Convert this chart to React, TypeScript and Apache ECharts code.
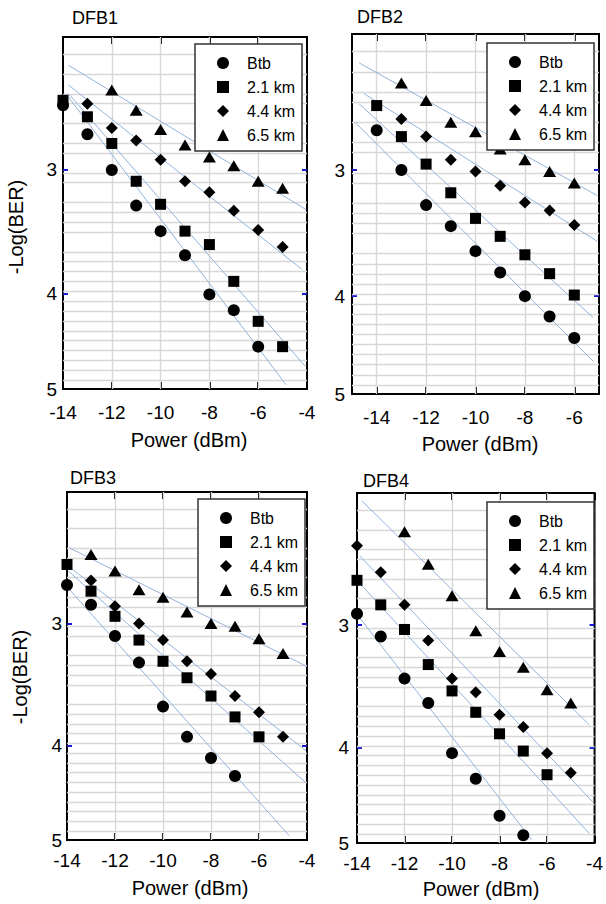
import React, { useEffect, useRef } from 'react';
import * as echarts from 'echarts';

const FONT = '"Liberation Sans", Arial, Helvetica, sans-serif';

// ---------- shared axis values ----------
const SERIES_NAMES = ['Btb', '2.1 km', '4.4 km', '6.5 km'];
const PANEL_TITLES = ['DFB1', 'DFB2', 'DFB3', 'DFB4'];
const X_TICKS_WIDE = [-14, -12, -10, -8, -6, -4];
const X_TICKS_NARROW = [-14, -12, -10, -8, -6];
const Y_LABELS = [3, 4, 5];
const Y_TICKS = [3, 4];
const Y_GRID = [2.3, 2.4, 2.5, 2.6, 2.7, 2.8, 2.9, 3.0, 3.1, 3.2, 3.3, 3.4, 3.5, 3.6, 3.7, 3.8, 3.9, 4.0, 4.1, 4.2, 4.3, 4.4, 4.5, 4.6, 4.7, 4.8, 4.9];
const Y_MIN = 2.2;
const Y_MAX = 5;
const X_NAME = 'Power (dBm)';
const Y_NAME = '-Log(BER)';

// ---------- DFB1 ----------
const dfb1BtbX = [-14, -13, -12, -11, -10, -9, -8, -7, -6];
const dfb1BtbY = [2.58, 2.76, 3.0, 3.26, 3.46, 3.66, 4.01, 4.16, 4.53];
const dfb1Km21X = [-14, -13, -12, -11, -10, -9, -8, -7, -6, -5];
const dfb1Km21Y = [2.55, 2.65, 2.82, 3.08, 3.25, 3.46, 3.57, 3.89, 4.27, 4.53];
const dfb1Km44X = [-13, -12, -11, -10, -9, -8, -7, -6, -5];
const dfb1Km44Y = [2.57, 2.72, 2.8, 2.93, 3.08, 3.16, 3.3, 3.45, 3.59];
const dfb1Km65X = [-12, -11, -10, -9, -8, -7, -6, -5];
const dfb1Km65Y = [2.49, 2.61, 2.73, 2.83, 2.91, 2.97, 3.08, 3.13];
const dfb1Fits = [
  [[-13.78, 2.53], [-4.86, 4.95]],
  [[-13.78, 2.51], [-4.08, 4.74]],
  [[-13.78, 2.46], [-4.22, 3.78]],
  [[-13.78, 2.35], [-4.04, 3.29]],
];

// ---------- DFB2 ----------
const dfb2BtbX = [-14, -13, -12, -11, -10, -9, -8, -7, -6];
const dfb2BtbY = [2.74, 3.0, 3.25, 3.41, 3.61, 3.79, 4.0, 4.19, 4.4];
const dfb2Km21X = [-14, -13, -12, -11, -10, -9, -8, -7, -6];
const dfb2Km21Y = [2.59, 2.78, 2.96, 3.16, 3.35, 3.49, 3.64, 3.8, 3.99];
const dfb2Km44X = [-13, -12, -11, -10, -9, -8, -7, -6];
const dfb2Km44Y = [2.67, 2.78, 2.93, 3.01, 3.11, 3.23, 3.29, 3.4];
const dfb2Km65X = [-13, -12, -11, -10, -9, -8, -7, -6];
const dfb2Km65Y = [2.46, 2.56, 2.69, 2.75, 2.86, 2.93, 3.01, 3.09];
const dfb2Fits = [
  [[-14.88, 2.69], [-5.24, 4.64]],
  [[-14.71, 2.58], [-5.24, 4.2]],
  [[-14.52, 2.52], [-5.07, 3.53]],
  [[-14.71, 2.35], [-5.07, 3.18]],
];

// ---------- DFB3 ----------
const dfb3BtbX = [-14, -13, -12, -11, -10, -9, -8, -7];
const dfb3BtbY = [2.74, 2.87, 3.09, 3.29, 3.65, 3.92, 4.12, 4.3];
const dfb3Km21X = [-14, -13, -12, -11, -10, -9, -8, -7, -6];
const dfb3Km21Y = [2.61, 2.78, 2.95, 3.12, 3.28, 3.41, 3.56, 3.74, 3.92];
const dfb3Km44X = [-13, -12, -11, -10, -9, -8, -7, -6, -5];
const dfb3Km44Y = [2.71, 2.88, 3.0, 3.12, 3.28, 3.38, 3.56, 3.7, 3.92];
const dfb3Km65X = [-13, -12, -11, -10, -9, -8, -7, -6, -5];
const dfb3Km65Y = [2.55, 2.65, 2.77, 2.82, 2.92, 3.0, 3.02, 3.11, 3.22];
const dfb3Fits = [
  [[-13.95, 2.76], [-4.74, 4.95]],
  [[-13.95, 2.65], [-4.04, 4.37]],
  [[-13.95, 2.62], [-4.04, 4.05]],
  [[-13.9, 2.51], [-4.01, 3.32]],
];

// ---------- DFB4 ----------
const dfb4BtbX = [-14, -13, -12, -11, -10, -9, -8, -7];
const dfb4BtbY = [2.92, 3.08, 3.4, 3.6, 4.05, 4.3, 4.69, 4.91];
const dfb4Km21X = [-14, -13, -12, -11, -10, -9, -8, -7, -6];
const dfb4Km21Y = [2.7, 2.86, 3.03, 3.29, 3.5, 3.68, 3.87, 4.03, 4.26];
const dfb4Km44X = [-14, -13, -12, -11, -10, -9, -8, -7, -6, -5];
const dfb4Km44Y = [2.49, 2.65, 2.86, 3.11, 3.4, 3.51, 3.7, 3.81, 4.05, 4.24];
const dfb4Km65X = [-12, -11, -10, -9, -8, -7, -6, -5];
const dfb4Km65Y = [2.41, 2.6, 2.8, 3.04, 3.19, 3.31, 3.49, 3.6];
const dfb4Fits = [
  [[-13.88, 2.95], [-6.65, 4.96]],
  [[-13.88, 2.72], [-4.22, 4.89]],
  [[-13.88, 2.55], [-4.08, 4.54]],
  [[-13.8, 2.24], [-4.22, 3.79]],
];

// ---------- layout / style (not data) ----------
const PANELS = [
  {
    grid: { left: 63, top: 37, width: 244, height: 352 },
    xMin: -14, xMax: -4, xTicks: X_TICKS_WIDE, xLabelMargin: 14, yLabelMargin: 6,
    legend: { left: 195, top: 44 },
    title: { x: 72, y: 18 }, xName: { x: 189, y: 440 }, yName: { x: 16, y: 227 },
    xs: [dfb1BtbX, dfb1Km21X, dfb1Km44X, dfb1Km65X],
    ys: [dfb1BtbY, dfb1Km21Y, dfb1Km44Y, dfb1Km65Y],
    fits: dfb1Fits,
  },
  {
    grid: { left: 352, top: 34, width: 247, height: 360 },
    xMin: -15, xMax: -5, xTicks: X_TICKS_NARROW, xLabelMargin: 14, yLabelMargin: 7,
    legend: { left: 487, top: 43 },
    title: { x: 357, y: 17 }, xName: { x: 480, y: 444 }, yName: null,
    xs: [dfb2BtbX, dfb2Km21X, dfb2Km44X, dfb2Km65X],
    ys: [dfb2BtbY, dfb2Km21Y, dfb2Km44Y, dfb2Km65Y],
    fits: dfb2Fits,
  },
  {
    grid: { left: 67, top: 492, width: 240, height: 348 },
    xMin: -14, xMax: -4, xTicks: X_TICKS_WIDE, xLabelMargin: 11, yLabelMargin: 5,
    legend: { left: 198, top: 499 },
    title: { x: 70, y: 478 }, xName: { x: 190, y: 888 }, yName: { x: 20, y: 677 },
    xs: [dfb3BtbX, dfb3Km21X, dfb3Km44X, dfb3Km65X],
    ys: [dfb3BtbY, dfb3Km21Y, dfb3Km44Y, dfb3Km65Y],
    fits: dfb3Fits,
  },
  {
    grid: { left: 357, top: 493, width: 240, height: 350 },
    xMin: -14, xMax: -4, xTicks: X_TICKS_WIDE, xLabelMargin: 11, yLabelMargin: 8,
    legend: { left: 487, top: 502 },
    title: { x: 363, y: 481 }, xName: { x: 481, y: 889 }, yName: null,
    xs: [dfb4BtbX, dfb4Km21X, dfb4Km44X, dfb4Km65X],
    ys: [dfb4BtbY, dfb4Km21Y, dfb4Km44Y, dfb4Km65Y],
    fits: dfb4Fits,
  },
];

const SYMBOLS = ['circle', 'rect', 'diamond', 'triangle'];
const SYMBOL_SIZES: any[] = [12, 11, 12, [13, 11]];
const FIT_COLOR = '#93b3da';
const GRID_COLOR = '#d8d8d8';
const TICK_BLUE = '#1a1ad0';

const toY = (v: number) => Math.log10(v);

function buildOption() {
  const grids: any[] = [];
  const xAxes: any[] = [];
  const yAxes: any[] = [];
  const series: any[] = [];
  const legends: any[] = [];
  const graphics: any[] = [];

  PANELS.forEach((p, i) => {
    grids.push({
      ...p.grid,
      show: true,
      borderColor: '#000',
      borderWidth: 2,
      backgroundColor: 'transparent',
      containLabel: false,
    });
    const xBase = {
      gridIndex: i,
      type: 'value',
      min: p.xMin,
      max: p.xMax,
      axisLine: { show: false },
      splitLine: { show: false },
    };
    xAxes.push({
      ...xBase,
      position: 'bottom',
      axisTick: { show: true, inside: true, length: 7, customValues: p.xTicks, lineStyle: { color: '#000', width: 2 } },
      axisLabel: {
        show: true,
        customValues: p.xTicks,
        margin: p.xLabelMargin,
        fontSize: 19,
        fontFamily: FONT,
        color: '#000',
        formatter: (v: number) => String(v),
      },
    });
    xAxes.push({
      ...xBase,
      position: 'top',
      axisTick: { show: true, inside: true, length: 7, customValues: p.xTicks, lineStyle: { color: '#000', width: 2 } },
      axisLabel: { show: false },
    });
    const yBase = {
      gridIndex: i,
      type: 'value',
      inverse: true,
      min: toY(Y_MIN),
      max: toY(Y_MAX),
      axisLine: { show: false },
      splitLine: { show: false },
    };
    yAxes.push({
      ...yBase,
      position: 'left',
      axisTick: {
        show: true,
        inside: true,
        length: 5,
        customValues: Y_TICKS.map(toY),
        lineStyle: { color: TICK_BLUE, width: 2 },
      },
      axisLabel: {
        show: true,
        customValues: Y_LABELS.map(toY),
        margin: p.yLabelMargin,
        fontSize: 19,
        fontFamily: FONT,
        color: '#000',
        formatter: (v: number) => String(Math.round(Math.pow(10, v))),
      },
    });
    yAxes.push({
      ...yBase,
      position: 'right',
      axisTick: {
        show: true,
        inside: true,
        length: 5,
        customValues: Y_TICKS.map(toY),
        lineStyle: { color: TICK_BLUE, width: 2 },
      },
      axisLabel: { show: false },
    });

    const xi = i * 2;
    const yi = i * 2;

    // grid lines
    series.push({
      type: 'line',
      xAxisIndex: xi,
      yAxisIndex: yi,
      data: [],
      silent: true,
      z: 1,
      markLine: {
        z: 1,
        silent: true,
        symbol: ['none', 'none'],
        label: { show: false },
        emphasis: { disabled: true },
        lineStyle: { color: GRID_COLOR, width: 1.4, type: 'solid' },
        data: [
          ...Y_GRID.map((v) => ({ yAxis: toY(v) })),
          ...p.xTicks.filter((x) => x > p.xMin && x < p.xMax).map((x) => ({ xAxis: x })),
        ],
      },
    });

    // fitted lines
    p.fits.forEach((f) => {
      series.push({
        type: 'line',
        xAxisIndex: xi,
        yAxisIndex: yi,
        data: f.map(([x, v]) => [x, toY(v)]),
        symbol: 'none',
        silent: true,
        lineStyle: { color: FIT_COLOR, width: 1 },
        z: 2,
      });
    });

    // measured points
    SERIES_NAMES.forEach((name, k) => {
      series.push({
        type: 'scatter',
        name,
        xAxisIndex: xi,
        yAxisIndex: yi,
        data: p.xs[k].map((x, j) => [x, toY(p.ys[k][j])]),
        symbol: SYMBOLS[k],
        symbolSize: SYMBOL_SIZES[k],
        itemStyle: { color: '#000', opacity: 1 },
        z: 3,
      });
    });

    legends.push({
      show: true,
      orient: 'vertical',
      left: p.legend.left,
      top: p.legend.top,
      data: SERIES_NAMES,
      itemWidth: 12,
      itemHeight: 12,
      itemGap: 8,
      padding: [11, 7, 8, 22],
      borderColor: '#333',
      borderWidth: 1.5,
      backgroundColor: '#fff',
      selectedMode: false,
      itemStyle: { opacity: 1 },
      textStyle: {
        fontSize: 16,
        fontFamily: FONT,
        color: '#000',
        lineHeight: 12,
        padding: [0, 0, 0, 13],
      },
    });

    graphics.push({
      type: 'text',
      x: p.title.x,
      y: p.title.y,
      style: {
        text: PANEL_TITLES[i],
        fontSize: 18,
        fontFamily: FONT,
        fill: '#000',
        textAlign: 'left',
        textVerticalAlign: 'middle',
      },
    });
    graphics.push({
      type: 'text',
      x: p.xName.x,
      y: p.xName.y,
      style: {
        text: X_NAME,
        fontSize: 20,
        fontFamily: FONT,
        fill: '#000',
        textAlign: 'center',
        textVerticalAlign: 'middle',
      },
    });
    if (p.yName) {
      graphics.push({
        type: 'text',
        x: p.yName.x,
        y: p.yName.y,
        rotation: Math.PI / 2,
        style: {
          text: Y_NAME,
          fontSize: 20,
          fontFamily: FONT,
          fill: '#000',
          textAlign: 'center',
          textVerticalAlign: 'middle',
        },
      });
    }
  });

  return {
    animation: false,
    backgroundColor: '#fff',
    textStyle: { fontFamily: FONT },
    grid: grids,
    xAxis: xAxes,
    yAxis: yAxes,
    legend: legends,
    series,
    graphic: graphics,
  };
}

export default function App() {
  const ref = useRef<HTMLDivElement>(null);
  useEffect(() => {
    if (!ref.current) return;
    const chart = echarts.init(ref.current, null, { renderer: 'svg' });
    chart.setOption(buildOption() as any);
    return () => chart.dispose();
  }, []);
  return (
    <div
      ref={ref}
      style={{ position: 'fixed', left: 0, top: 0, width: 606, height: 904, background: '#fff' }}
    />
  );
}
